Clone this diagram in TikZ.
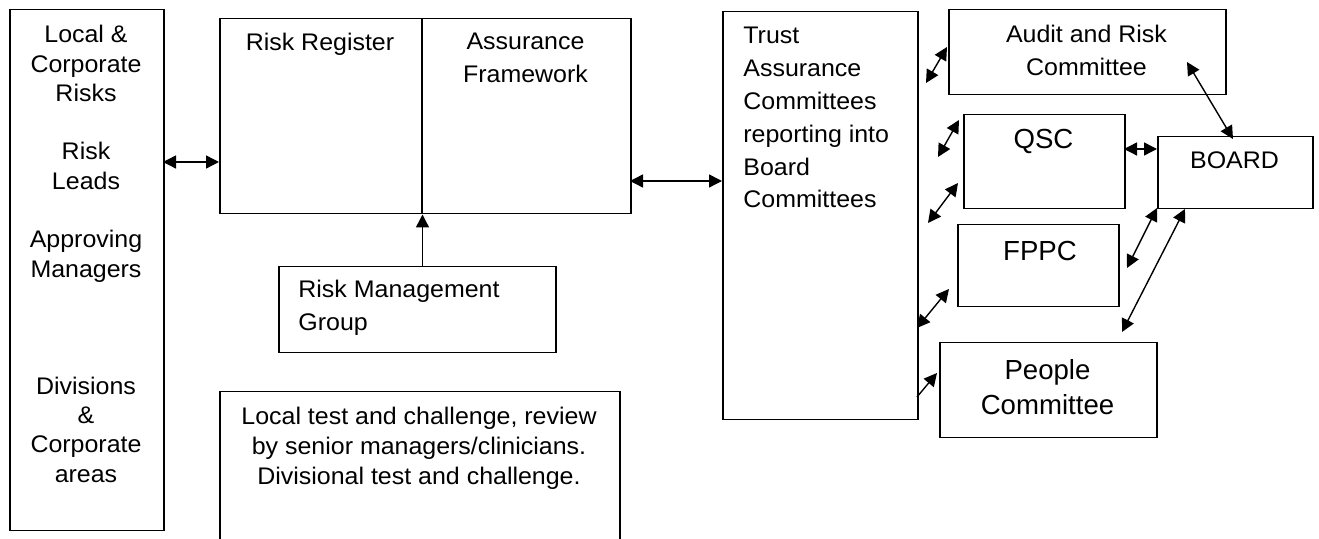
\documentclass[tikz,border=0pt]{standalone}
\usepackage{fontspec}
\setmainfont[FakeStretch=1.04]{Liberation Sans}
\newfontfamily\bigfont{Liberation Sans}
\usetikzlibrary{arrows.meta, positioning}
\tikzset{
  box/.style    ={draw, line width=0.75pt, inner sep=0pt, anchor=north west},
  txt/.style    ={inner sep=0pt, anchor=north, align=center,
                  font=\fontsize{12}{16.5}\selectfont},
  bigtxt/.style ={inner sep=0pt, anchor=north, align=center,
                  font=\bigfont\fontsize{13.8}{17.5}\selectfont},
  link/.style   ={{Triangle[length=6.5pt,width=6.5pt]}-{Triangle[length=6.5pt,width=6.5pt]},
                  line width=0.7pt},
  uplink/.style ={-{Triangle[length=6.5pt,width=6.5pt]}, line width=0.7pt},
}

\begin{document}
\begin{tikzpicture}[x=0.5pt, y=-0.5pt]
  \useasboundingbox (0,0) rectangle (1319,539);
  % left column
  \node[box, minimum width=77pt, minimum height=260.5pt] (lhs) at (9,9) {};
  \node[txt, font=\fontsize{12}{14.65}\selectfont] (lhstxt) at (86,25)
    {Local \&\\Corporate\\Risks\\[14.65pt]Risk\\Leads\\[14.65pt]Approving\\Managers\\[43.95pt]Divisions\\\&\\Corporate\\areas};
  % register and framework
  \node[box, minimum width=101pt, minimum height=97.5pt] (reg) at (219,18) {};
  \node[box, minimum width=104.5pt, minimum height=97.5pt] (asf) at (421,18) {};
  \node[txt] (regtxt) at (320,33) {Risk Register};
  \node[txt] (asftxt) at (525.5,33) {Assurance\\Framework};
  \node[box, minimum width=138.5pt, minimum height=43pt] (rmg) at (278,266) {};
  \node[txt, anchor=north west, align=left] (rmgtxt) at (298,280) {Risk Management\\Group};
  \node[box, minimum width=200pt, minimum height=90pt] (ltc) at (219,391) {};
  \node[txt, font=\fontsize{12}{15}\selectfont] (ltctxt) at (419,407)
    {Local test and challenge, review\\by senior managers/clinicians.\\Divisional test and challenge.};
  % trust committees
  \node[box, minimum width=97.5pt, minimum height=204pt] (trust) at (722,11) {};
  \node[txt, anchor=north west, align=left, font=\fontsize{12}{16.4}\selectfont] (trusttxt) at (743,27)
    {Trust\\Assurance\\Committees\\reporting into\\Board\\Committees};
  \node[box, minimum width=138.5pt, minimum height=42.5pt] (aud) at (948,9) {};
  \node[txt] (audtxt) at (1086.5,25) {Audit and Risk\\Committee};
  \node[box, minimum width=80.5pt, minimum height=47pt] (qsc) at (963,114) {};
  \node[bigtxt] (qsctxt) at (1043.5,129) {QSC};
  \node[box, minimum width=80.5pt, minimum height=41pt] (fppc) at (957,224) {};
  \node[bigtxt] (fppctxt) at (1040,241) {FPPC};
  \node[box, minimum width=108.5pt, minimum height=47.5pt] (ppl) at (939,342) {};
  \node[bigtxt] (ppltxt) at (1047.5,359) {People\\Committee};
  \node[box, minimum width=77.5pt, minimum height=36pt] (brd) at (1157,136) {};
  \node[txt] (brdtxt) at (1234.5,151) {BOARD};
  % arrow ends
  \coordinate (l1) at (163,162);   \coordinate (r1) at (219,162);
  \coordinate (r2) at (630,181);   \coordinate (t2) at (722,181);
  \coordinate (t3) at (926,83);    \coordinate (a3) at (947,47);
  \coordinate (t4) at (938,157);   \coordinate (q4) at (959,120);
  \coordinate (t5) at (928,223);   \coordinate (q5) at (958,183);
  \coordinate (t6) at (917,328);   \coordinate (f6) at (949,289);
  \coordinate (t7) at (917,397);   \coordinate (p7) at (937,373);
  \coordinate (a8) at (1187,62);   \coordinate (b8) at (1233,139);
  \coordinate (q9) at (1124,149);  \coordinate (b9) at (1157,149);
  \coordinate (f10) at (1127,268); \coordinate (b10) at (1157,208);
  \coordinate (p11) at (1122,332); \coordinate (b11) at (1185,209);
  % connectors
  \draw[link] (l1) -- (r1);
  \draw[uplink] (rmg.north -| reg.south east) -- (reg.south east);
  \draw[link] (r2) -- (t2);
  \draw[link] (t3) -- (a3);
  \draw[link] (t4) -- (q4);
  \draw[link] (t5) -- (q5);
  \draw[link] (t6) -- (f6);
  \draw[uplink] (t7) -- (p7);
  \draw[link] (a8) -- (b8);
  \draw[link] (q9) -- (b9);
  \draw[link] (f10) -- (b10);
  \draw[link] (p11) -- (b11);
\end{tikzpicture}
\end{document}
